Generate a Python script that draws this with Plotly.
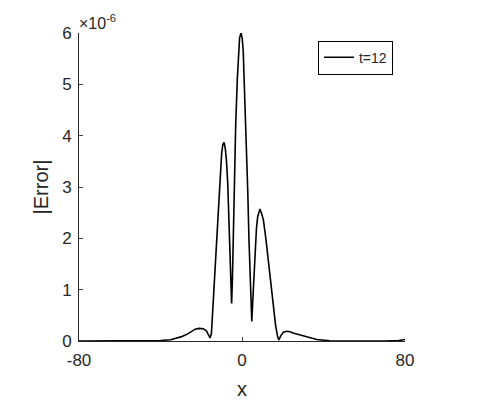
import plotly.graph_objects as go
import numpy as np

# |Error| at t=12, values in units of 1e-6
x = [-80, -60, -50, -45, -40, -35, -30, -27, -25, -23, -21, -19, -17.5, -16.5,
     -15.7, -15, -14.1, -13.2, -12.4, -11.5, -10.8, -10, -9.4, -8.8, -8.2, -7.6,
     -7.0, -6.5, -5.9, -5.4, -5.1, -4.7, -4.3, -3.8, -3.1, -2.3, -1.8, -1.2,
     -0.5, 0.1, 0.6, 1.2, 1.8, 2.3, 2.8, 3.4, 4.1, 4.8, 5.5, 6.4, 7.1, 7.7,
     8.3, 8.8, 9.5, 10.5, 11.7, 12.9, 14.2, 15.4, 16.5, 17.5, 18.1, 19, 20.3,
     22, 23.5, 25.5, 28.5, 32, 36.7, 43, 50, 60, 70, 77, 79, 80]
err = [0, 0, 0.002, 0.005, 0.01, 0.025, 0.08, 0.13, 0.18, 0.23, 0.245, 0.24,
       0.2, 0.12, 0.06, 0.15, 0.8, 1.45, 2.0, 2.6, 3.2, 3.65, 3.83, 3.87, 3.75,
       3.5, 3.07, 2.5, 1.77, 1.0, 0.73, 1.2, 2.1, 2.96, 4.2, 5.1, 5.6, 5.9,
       6.0, 5.9, 5.65, 5.0, 4.25, 3.6, 2.95, 2.0, 1.0, 0.38, 0.95, 1.77, 2.2,
       2.42, 2.54, 2.57, 2.5, 2.36, 2.0, 1.58, 1.1, 0.67, 0.3, 0.08, 0.02, 0.1,
       0.17, 0.19, 0.18, 0.15, 0.12, 0.07, 0.03, 0.005, 0, 0, 0, 0.01, 0.02, 0.03]

y_ticks = [0, 1, 2, 3, 4, 5, 6]
x_ticks = [-80, 0, 80]
x_labels = ['-80', '0', '80']

y = np.array(err) * 1e-6

font = dict(family='Liberation Sans, Arial, sans-serif', size=17, color='#262626')

fig = go.Figure()
fig.add_trace(go.Scatter(x=x, y=y, mode='lines', name='t=12',
                         line=dict(color='black', width=1.6)))

fig.add_annotation(x=0, y=1, xref='paper', yref='paper', xanchor='left',
                   yanchor='bottom', xshift=-2, yshift=-1, showarrow=False,
                   text='×10<sup>-6</sup>', font=dict(size=16, color='#262626',
                   family='Liberation Sans, Arial, sans-serif'))

# page has an 8px body margin, so the figure is shrunk by that amount
fig.update_layout(
    width=494, height=409,
    margin=dict(l=71, r=97, t=25, b=76),
    paper_bgcolor='white', plot_bgcolor='white',
    font=font,
    showlegend=True,
    legend=dict(x=0.963, y=0.975, xanchor='right', yanchor='top',
                bordercolor='black', borderwidth=1, bgcolor='white',
                font=dict(size=14, color='#262626'), itemwidth=30,
                tracegroupgap=0),
    xaxis=dict(range=[-80, 80], tickvals=x_ticks, ticktext=x_labels,
               ticks='inside', ticklen=4, automargin=False, ticklabelstandoff=4,
               showline=True, linecolor='#262626', linewidth=1, showgrid=False,
               zeroline=False, title=dict(text='x', standoff=12)),
    yaxis=dict(range=[0, 6e-6], tickvals=[v * 1e-6 for v in y_ticks],
               ticktext=[str(v) for v in y_ticks], ticks='inside', ticklen=4,
               automargin=False, ticklabelstandoff=3,
               showline=True, linecolor='#262626', linewidth=1, showgrid=False,
               zeroline=False, title=dict(text='|Error|', standoff=8)),
)

fig.write_html('out.html')
